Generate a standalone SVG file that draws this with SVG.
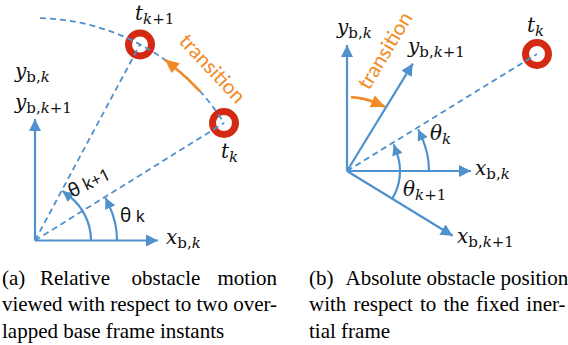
<svg xmlns="http://www.w3.org/2000/svg" width="568" height="345" viewBox="0 0 568 345">
<style>
.ax{fill:none;stroke:#4F91CD;stroke-width:2.2;marker-end:url(#ab)}
.arc{fill:none;stroke:#4F91CD;stroke-width:2.2;marker-end:url(#ab2)}
.dash{fill:none;stroke:#4F91CD;stroke-width:1.8;stroke-dasharray:6 4}
.tr{fill:none;stroke:#F28A25;stroke-width:2.6;marker-end:url(#ao)}
.ring{fill:none;stroke:#D42A13;stroke-width:7}
.m{font-family:"DejaVu Serif","Liberation Serif",serif;font-style:italic;font-size:20px;fill:#111}
.up{font-style:normal}
.s{font-size:15px}
.th{font-family:"Noto Sans","DejaVu Sans",sans-serif;font-size:19px;fill:#111}
.tt{font-family:Lato,"Noto Sans",sans-serif;font-size:20.5px;fill:#F28A25}
.cap{font-family:"Liberation Serif","Times New Roman",serif;font-size:21px;fill:#000}
</style>
<defs>
<marker id="ab" markerUnits="userSpaceOnUse" markerWidth="13" markerHeight="12" refX="12" refY="6" orient="auto"><path d="M0,0 L12,6 L0,12 z" fill="#4F91CD"/></marker>
<marker id="ab2" markerUnits="userSpaceOnUse" markerWidth="12" markerHeight="11" refX="11" refY="5.5" orient="auto"><path d="M0,0 L11,5.5 L0,11 z" fill="#4F91CD"/></marker>
<marker id="ao" markerUnits="userSpaceOnUse" markerWidth="15" markerHeight="13" refX="14" refY="6.5" orient="auto"><path d="M0,0 L14,6.5 L0,13 z" fill="#F28A25"/></marker>
</defs>

<g id="panel-a">
  <g id="a-obstacle-k1"><circle class="ring" cx="140" cy="44.5" r="11.5"/></g>
  <g id="a-obstacle-k"><circle class="ring" cx="224" cy="123" r="11.5"/></g>
  <g id="a-connectors">
    <path class="dash" d="M40,18.2 A222.4,222.4 0 0 1 224,123"/>
    <path class="dash" d="M35,240.5 L224,123"/>
    <path class="dash" d="M35,240.5 L140,44.5"/>
    <path class="ax" d="M35,240.5 H158"/>
    <path class="ax" d="M35,240.5 V119"/>
    <path class="arc" d="M117,240.5 A82,82 0 0 0 109.3,205.9 L105.5,197.7"/>
    <path class="arc" d="M91,240.5 A56,56 0 0 0 69.5,196.4 L62.4,190.9"/>
    <path class="tr" d="M200.3,91.7 A222.4,222.4 0 0 0 175,67.7 L164.9,59.5"/>
  </g>
  <g id="a-labels">
    <text class="m" x="135" y="20">t<tspan class="s" dy="4">k</tspan><tspan class="s up">+1</tspan></text>
    <text class="m" x="221" y="158">t<tspan class="s" dy="4">k</tspan></text>
    <text class="m" x="15" y="78">y<tspan class="s up" dy="4">b,</tspan><tspan class="s">k</tspan></text>
    <text class="m" x="15" y="108.5">y<tspan class="s up" dy="4">b,</tspan><tspan class="s">k</tspan><tspan class="s up">+1</tspan></text>
    <text class="m" x="166" y="244">x<tspan class="s up" dy="4">b,</tspan><tspan class="s">k</tspan></text>
    <text class="th" transform="translate(72,198) rotate(-26)">θ<tspan font-size="17"> k+1</tspan></text>
    <text class="th" x="120" y="222">θ<tspan font-size="17"> k</tspan></text>
    <text class="tt" transform="translate(178,42) rotate(47)">transition</text>
  </g>
</g>

<g id="panel-b">
  <g id="b-obstacle-k"><circle class="ring" cx="537" cy="54" r="11.5"/></g>
  <g id="b-connectors">
    <path class="dash" d="M347,171 L537,54"/>
    <path class="ax" d="M347,171 H471"/>
    <path class="ax" d="M347,171 V45"/>
    <path class="ax" d="M347,171 L412.8,63.6"/>
    <path class="ax" d="M347,171 L452.7,235.8"/>
    <path class="arc" d="M429,171 A82,82 0 0 0 421.9,137.65 L418.2,129.4"/>
    <path class="arc" d="M392.2,198.7 A53,53 0 0 0 396.8,152.9 L393.7,144.4"/>
    <path class="tr" d="M350.9,97.1 A74,74 0 0 1 375.9,102.9 L385.1,106.8"/>
  </g>
  <g id="b-labels">
    <text class="m" x="337" y="34">y<tspan class="s up" dy="4">b,</tspan><tspan class="s">k</tspan></text>
    <text class="m" x="408" y="53">y<tspan class="s up" dy="4">b,</tspan><tspan class="s">k</tspan><tspan class="s up">+1</tspan></text>
    <text class="m" x="527" y="32">t<tspan class="s" dy="4">k</tspan></text>
    <text class="m" x="475" y="175">x<tspan class="s up" dy="4">b,</tspan><tspan class="s">k</tspan></text>
    <text class="m" x="457" y="243">x<tspan class="s up" dy="4">b,</tspan><tspan class="s">k</tspan><tspan class="s up">+1</tspan></text>
    <text class="m" x="430" y="140">θ<tspan class="s" dy="4">k</tspan></text>
    <text class="m" x="403" y="196">θ<tspan class="s" dy="4">k</tspan><tspan class="s up">+1</tspan></text>
    <text class="tt" transform="translate(369,91) rotate(-59)">transition</text>
  </g>
</g>

<g id="captions">
  <text class="cap" y="284.5"><tspan x="2">(a)</tspan><tspan x="40">Relative</tspan><tspan x="131.5">obstacle</tspan><tspan x="217.5">motion</tspan></text>
  <text class="cap" x="2" y="311" textLength="275" lengthAdjust="spacing">viewed with respect to two over-</text>
  <text class="cap" x="2" y="337.5">lapped base frame instants</text>
  <text class="cap" y="284.5"><tspan x="309">(b)</tspan><tspan x="345.5">Absolute</tspan><tspan x="426.5">obstacle</tspan><tspan x="500.5">position</tspan></text>
  <text class="cap" y="311"><tspan x="309">with</tspan><tspan x="353.4">respect</tspan><tspan x="420">to</tspan><tspan x="443.4">the</tspan><tspan x="476.1">fixed</tspan><tspan x="526.3">iner-</tspan></text>
  <text class="cap" x="309" y="337.5">tial frame</text>
</g>
</svg>
